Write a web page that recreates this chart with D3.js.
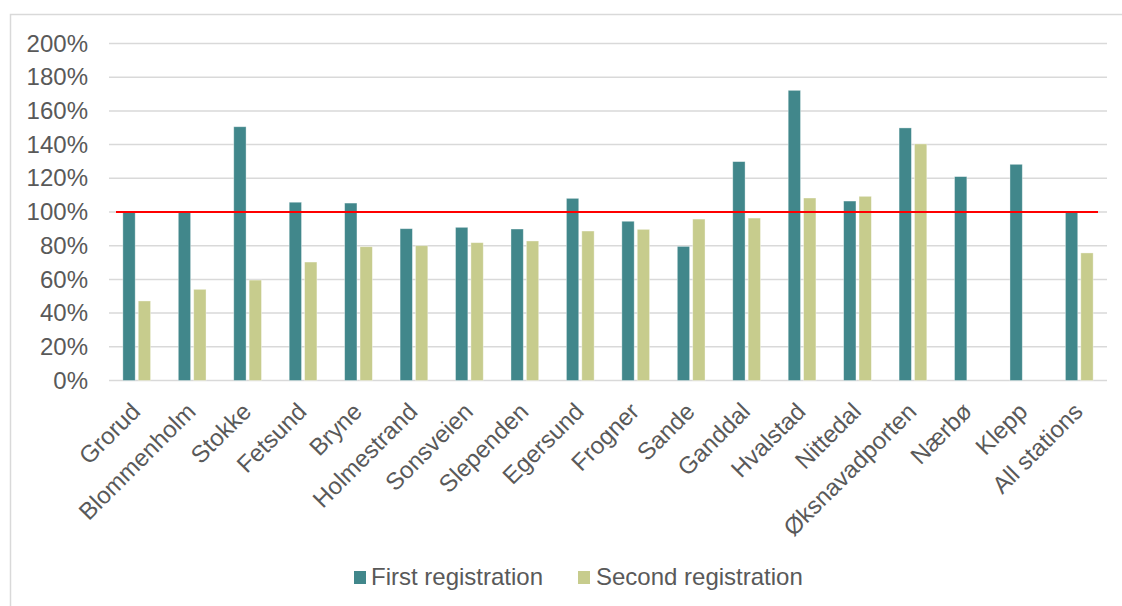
<!DOCTYPE html>
<html>
<head>
<meta charset="utf-8">
<script src="https://cdn.jsdelivr.net/npm/d3@7"></script>
<style>
  html, body { margin: 0; padding: 0; background: #fff; }
  svg { display: block; font-family: "Liberation Sans", Arial, sans-serif; }
</style>
</head>
<body>
<svg id="chart" width="1122" height="606"></svg>
<script>
const categories = ["Grorud","Blommenholm","Stokke","Fetsund","Bryne","Holmestrand","Sonsveien","Slependen","Egersund","Frogner","Sande","Ganddal","Hvalstad","Nittedal","Øksnavadporten","Nærbø","Klepp","All stations"];
const seriesNames = ["First registration","Second registration"];
const firstRegistration  = [1.00, 1.00, 1.506, 1.058, 1.053, 0.901, 0.909, 0.899, 1.081, 0.945, 0.796, 1.299, 1.722, 1.065, 1.499, 1.210, 1.283, 1.00];
const secondRegistration = [0.472, 0.541, 0.596, 0.703, 0.794, 0.800, 0.818, 0.828, 0.887, 0.897, 0.958, 0.964, 1.083, 1.093, 1.404, null, null, 0.757];
const yTicks = [0, 0.2, 0.4, 0.6, 0.8, 1.0, 1.2, 1.4, 1.6, 1.8, 2.0];
const referenceValue = 1.0;
const colors = ["#41878B", "#C7CC8D"];

const svg = d3.select("#chart");
const FS = 24;

// outer frame
svg.append("rect").attr("x", 10.5).attr("y", 14.5).attr("width", 1130).attr("height", 620)
  .attr("fill", "none").attr("stroke", "#D9D9D9").attr("stroke-width", 1.5);

const x0 = d3.scaleBand().domain(categories).range([109, 1107]).paddingInner(0.5).paddingOuter(0.25);
const x1 = d3.scaleBand().domain(seriesNames).range([0, x0.bandwidth()]).paddingInner(0.2);
const y = d3.scaleLinear().domain([0, 2]).range([380.5, 43.5]);

// gridlines
svg.append("g").selectAll("line").data(yTicks).join("line")
  .attr("x1", 109).attr("x2", 1107)
  .attr("y1", d => y(d)).attr("y2", d => y(d))
  .attr("stroke", "#D9D9D9").attr("stroke-width", 1.5);

// y axis labels
const yAxis = d3.axisLeft(y).tickValues(yTicks).tickSize(0).tickPadding(0).tickFormat(d3.format(".0%"));
const gy = svg.append("g").attr("transform", "translate(88,0)").call(yAxis);
gy.select(".domain").remove();
gy.selectAll("text").attr("fill", "#595959").attr("font-size", FS).attr("font-family", "Liberation Sans, Arial, sans-serif");

// bars
const data = categories.map((c, i) => ({ cat: c, vals: [firstRegistration[i], secondRegistration[i]] }));
const groups = svg.append("g").selectAll("g").data(data).join("g")
  .attr("transform", d => `translate(${x0(d.cat)},0)`);
groups.selectAll("rect")
  .data(d => d.vals.map((v, j) => ({ s: seriesNames[j], v, j })).filter(e => e.v != null))
  .join("rect")
  .attr("x", e => x1(e.s))
  .attr("width", x1.bandwidth())
  .attr("y", e => y(e.v))
  .attr("height", e => y(0) - y(e.v))
  .attr("fill", e => colors[e.j])
  .attr("stroke", "#ffffff").attr("stroke-opacity", 0.45).attr("stroke-width", 0.8);

// reference line at 100%
svg.append("line")
  .attr("x1", 116).attr("x2", 1098)
  .attr("y1", y(referenceValue)).attr("y2", y(referenceValue))
  .attr("stroke", "#FF0000").attr("stroke-width", 2.2);

// x axis labels
const xAxis = d3.axisBottom(x0).tickSize(0).tickPadding(0);
const gx = svg.append("g").attr("transform", "translate(0,381)").call(xAxis);
gx.select(".domain").remove();
gx.selectAll("text")
  .attr("fill", "#595959").attr("font-size", FS).attr("font-family", "Liberation Sans, Arial, sans-serif")
  .attr("text-anchor", "end").attr("dy", 0).attr("y", 0)
  .attr("transform", "translate(5,32) rotate(-45)");

// legend
const legendItems = [
  { name: seriesNames[0], color: colors[0], sx: 354, tx: 371 },
  { name: seriesNames[1], color: colors[1], sx: 578, tx: 596 }
];
const lg = svg.append("g");
lg.selectAll("rect").data(legendItems).join("rect")
  .attr("x", d => d.sx).attr("y", 571).attr("width", 12).attr("height", 13).attr("fill", d => d.color);
lg.selectAll("text").data(legendItems).join("text")
  .attr("x", d => d.tx).attr("y", 585)
  .attr("fill", "#595959").attr("font-size", FS)
  .text(d => d.name);
</script>
</body>
</html>
